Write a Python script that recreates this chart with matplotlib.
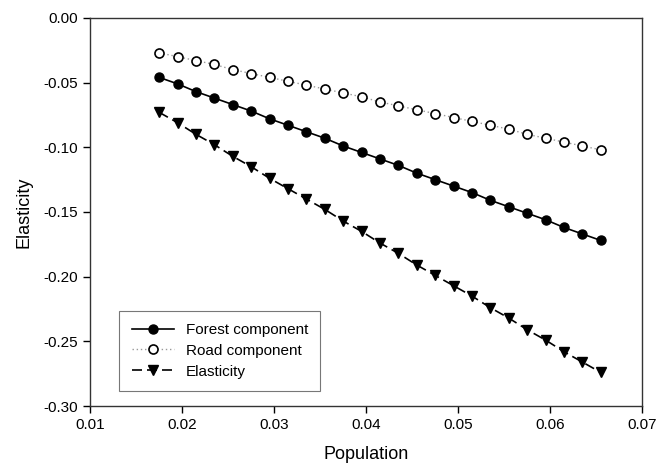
import matplotlib
matplotlib.use("Agg")
import matplotlib.pyplot as plt

plt.rcParams['font.family'] = ['Liberation Sans', 'DejaVu Sans']

population = [0.0175, 0.0195, 0.0215, 0.0235, 0.0255, 0.0275, 0.0295, 0.0315,
              0.0335, 0.0355, 0.0375, 0.0395, 0.0415, 0.0435, 0.0455, 0.0475,
              0.0495, 0.0515, 0.0535, 0.0555, 0.0575, 0.0595, 0.0615, 0.0635,
              0.0655]

forest = [-0.046, -0.051, -0.057, -0.062, -0.067, -0.072, -0.078, -0.083,
          -0.088, -0.093, -0.099, -0.104, -0.109, -0.114, -0.120, -0.125,
          -0.130, -0.135, -0.141, -0.146, -0.151, -0.156, -0.162, -0.167,
          -0.172]

road = [-0.027, -0.030, -0.033, -0.036, -0.040, -0.043, -0.046, -0.049,
        -0.052, -0.055, -0.058, -0.061, -0.065, -0.068, -0.071, -0.074,
        -0.077, -0.080, -0.083, -0.086, -0.090, -0.093, -0.096, -0.099,
        -0.102]

elasticity = [-0.073, -0.081, -0.090, -0.098, -0.107, -0.115, -0.124, -0.132,
              -0.140, -0.148, -0.157, -0.165, -0.174, -0.182, -0.191, -0.199,
              -0.207, -0.215, -0.224, -0.232, -0.241, -0.249, -0.258, -0.266,
              -0.274]

xticks = [0.01, 0.02, 0.03, 0.04, 0.05, 0.06, 0.07]
yticks = [0.00, -0.05, -0.10, -0.15, -0.20, -0.25, -0.30]

fig = plt.figure(figsize=(6.58, 4.70), dpi=100)
ax = fig.add_axes([0.137, 0.136, 0.839, 0.826])

ax.plot(population, forest, color='black', lw=1.2, marker='o', ms=6.5,
        label='Forest component')
ax.plot(population, road, color='#999999', lw=1.0, ls=(0, (1, 2)), marker='o',
        ms=6.5, mfc='white', mec='black', mew=1.2, label='Road component')
ax.plot(population, elasticity, color='black', lw=1.2, ls=(0, (6, 3)),
        marker='v', ms=7, label='Elasticity')

ax.set_xlim(0.01, 0.07)
ax.set_ylim(-0.30, 0.00)
ax.set_xticks(xticks)
ax.set_yticks(yticks)
ax.set_xticklabels(['%.2f' % t for t in xticks])
ax.set_yticklabels(['%.2f' % t for t in yticks])
ax.tick_params(direction='out', length=5, width=1, labelsize=11)

for s in ax.spines.values():
    s.set_linewidth(1.0)
    s.set_color('#333333')

ax.set_xlabel('Population', fontsize=13, labelpad=10)
ax.set_ylabel('Elasticity', fontsize=13, labelpad=8)

leg = ax.legend(loc='lower left', bbox_to_anchor=(0.053, 0.039),
                borderaxespad=0, fontsize=11, fancybox=False, framealpha=1,
                edgecolor='#777777', handlelength=2.75, borderpad=0.8,
                labelspacing=0.45, handletextpad=0.8)
leg.get_frame().set_linewidth(0.8)

fig.savefig('out.png', dpi=100)
